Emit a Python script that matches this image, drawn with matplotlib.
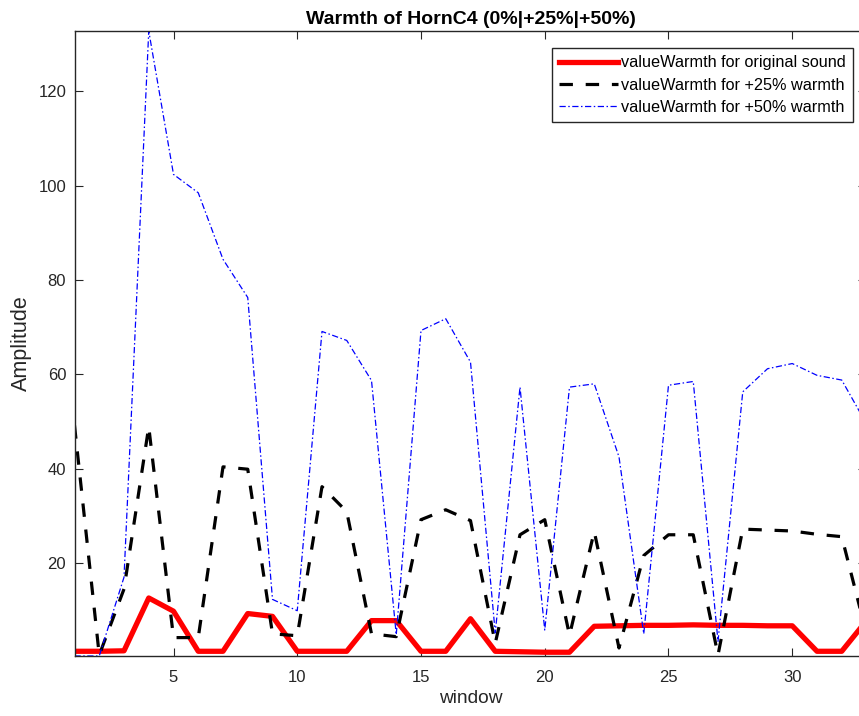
import matplotlib
matplotlib.use("Agg")
import matplotlib.pyplot as plt
import numpy as np

plt.rcParams['font.family'] = ['Liberation Sans', 'DejaVu Sans']

window = list(range(1, 34))
original = [1.3, 1.3, 1.4, 12.6, 9.8, 1.3, 1.3, 9.3, 8.7, 1.3, 1.3, 1.3, 7.8, 7.8,
            1.3, 1.3, 8.2, 1.3, 1.2, 1.1, 1.1, 6.6, 6.7, 6.8, 6.8, 6.9, 6.8, 6.8,
            6.7, 6.7, 1.3, 1.3, 7.8]
plus25 = [49.2, 0.5, 14.5, 48.9, 4.2, 4.2, 40.4, 39.9, 5.0, 4.6, 36.2, 30.9, 5.0, 4.4,
          29.2, 31.3, 29.0, 3.0, 26.0, 29.2, 4.7, 26.7, 2.0, 21.6, 26.0, 26.0, 0.5,
          27.2, 27.0, 26.8, 26.1, 25.6, 5.0]
plus50 = [0.3, 0.3, 17.0, 132.8, 102.4, 98.5, 84.4, 76.3, 12.3, 9.9, 69.1, 67.2, 58.7,
          4.8, 69.3, 71.8, 62.6, 5.2, 57.3, 5.8, 57.3, 58.0, 42.5, 5.0, 57.7, 58.5,
          3.4, 56.3, 61.2, 62.3, 59.8, 58.8, 49.5]

labels = ['valueWarmth for original sound', 'valueWarmth for +25% warmth',
          'valueWarmth for +50% warmth']
xticks = [5, 10, 15, 20, 25, 30]
yticks = [20, 40, 60, 80, 100, 120]

fig = plt.figure(figsize=(8.59, 7.16), dpi=100)
ax = fig.add_axes([74.5 / 859, 60 / 716, 792 / 859, 625 / 716])

ax.plot(window, original, color='red', lw=3.8, label=labels[0])
ax.plot(window, plus25, color='black', lw=2.3, linestyle=(0, (4.2, 4.0)), label=labels[1])
ax.plot(window, plus50, color='blue', lw=0.9, linestyle=(0, (5, 2, 1.2, 2)), label=labels[2])

ax.set_xlim(1, 33)
ax.set_ylim(0.3, 132.8)
ax.set_xticks(xticks)
ax.set_yticks(yticks)

gray = '#262626'
for s in ax.spines.values():
    s.set_color(gray)
    s.set_linewidth(1.0)
ax.tick_params(direction='in', length=5.5, width=0.8, colors=gray, labelsize=12,
               top=True, right=True)
ax.tick_params(axis='x', pad=10)
ax.tick_params(axis='y', pad=6)
ax.set_xlabel('window', fontsize=13.8, color=gray, labelpad=4)
ax.set_ylabel('Amplitude', fontsize=15.5, color=gray, labelpad=4.5)
ax.set_title('Warmth of HornC4 (0%|+25%|+50%)', fontsize=14, fontweight='bold', pad=5)

leg = ax.legend(loc='upper left', bbox_to_anchor=(552 / 859, 1 - 48 / 716),
                bbox_transform=fig.transFigure, fontsize=11.7, handlelength=3.6,
                handletextpad=0.18, borderpad=0.45, labelspacing=0.45,
                fancybox=False, framealpha=1, edgecolor=gray, borderaxespad=0)
leg.get_frame().set_linewidth(1.0)

fig.savefig('out.png', dpi=100)
